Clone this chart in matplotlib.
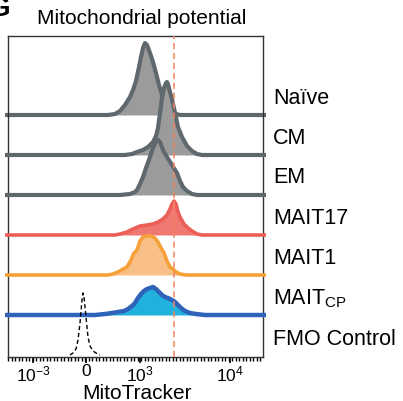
import matplotlib
matplotlib.use("Agg")
import matplotlib.pyplot as plt
from matplotlib.ticker import FixedLocator, MultipleLocator

plt.rcParams['font.family'] = ['Liberation Sans', 'DejaVu Sans']
plt.rcParams['mathtext.default'] = 'regular'

# ---- data (channel position, histogram height) ----
rows = ["Naïve", "CM", "EM", "MAIT17", "MAIT1", r"MAIT$_{CP}$", "FMO Control"]

naive_x = [100, 107, 112, 117, 122, 125, 128, 131, 133, 135, 137, 139, 142, 145, 148, 151, 154, 157, 160, 164, 168, 172]
naive_y = [0, 1, 4, 10, 18, 25, 34, 48, 58, 67, 72, 70, 62, 53, 42, 30, 20, 13, 8, 4, 1, 0]

cm_x = [117, 124, 129, 135, 140, 145, 148, 150, 152, 154, 156, 158, 159, 160, 162, 164, 167, 170, 174, 179, 184, 189, 194]
cm_y = [0, 1, 3, 5, 8, 13, 19, 27, 42, 57, 67, 72, 73, 71, 63, 56, 42, 28, 18, 9, 4, 1, 0]

em_x = [112, 122, 127, 129, 132, 135, 138, 142, 145, 148, 150, 152, 155, 159, 164, 169, 172, 175, 179, 184, 189]
em_y = [0, 1, 3, 5, 11, 18, 27, 38, 47, 53, 55, 53, 45, 38, 30, 22, 14, 8, 4, 1, 0]

m17_x = [107, 112, 119, 125, 132, 139, 145, 150, 155, 159, 162, 164, 166, 168, 170, 172, 176, 180, 184, 189, 194]
m17_y = [0, 1, 3, 6, 9, 10, 11, 13, 16, 20, 26, 31, 34, 31, 23, 18, 11, 7, 4, 1, 0]

m1_x = [100, 105, 110, 115, 119, 123, 126, 129, 132, 135, 139, 143, 147, 150, 153, 156, 159, 162, 165, 168, 172, 178]
m1_y = [0, 1, 3, 6, 8, 15, 22, 25, 34, 38, 39, 39, 37, 33, 27, 22, 14, 8, 6, 3, 1, 0]

mcp_x = [87, 97, 104, 110, 116, 120, 124, 127, 130, 133, 136, 139, 142, 145, 148, 151, 154, 157, 160, 164, 167, 170, 173, 177, 182, 188, 197]
mcp_y = [0, 1, 2, 3, 4, 6, 9, 12, 17, 21, 24, 26, 27, 28, 26, 23, 20, 18, 17, 15, 13, 10, 7, 4, 2, 1, 0]

fmo_x = [62, 65, 68, 70, 72, 74, 75, 76, 78, 80, 82, 85, 88, 92]
fmo_y = [0, 2, 6, 15, 32, 55, 62, 58, 38, 18, 9, 4, 2, 0]

curves_x = [naive_x, cm_x, em_x, m17_x, m1_x, mcp_x, fmo_x]
curves_y = [naive_y, cm_y, em_y, m17_y, m1_y, mcp_y, fmo_y]

tick_pos = [25, 78, 131.5, 221.5]
tick_labels = [r"$10^{-3}$", "0", r"$10^{3}$", r"$10^{4}$"]
gate_pos = 166

# ---- styling ----
line_colors = ["#5f686d", "#5f686d", "#5f686d", "#ec5e58", "#f6a03a", "#2f63b9", "black"]
fill_colors = ["#9b9b9b", "#9b9b9b", "#9b9b9b", "#ef7870", "#f8bf86", "#20b2dc", None]
line_widths = [3.0, 3.0, 3.0, 2.6, 2.6, 3.2, 1.0]
spacing = 40

W, H = 403, 402
fig = plt.figure(figsize=(W / 100, H / 100), dpi=100)
ax_l, ax_r, ax_t, ax_b = 8, 263, 37, 358
ax = fig.add_axes([ax_l / W, 1 - ax_b / H, (ax_r - ax_l) / W, (ax_b - ax_t) / H])
ax.set_xlim(0, ax_r - ax_l)
ax.set_ylim(0, ax_b - ax_t)

n = len(rows)
for i in range(n):
    off = (n - 1 - i) * spacing + 2
    xs = curves_x[i]
    ys = [off + v for v in curves_y[i]]
    z = 2 + i
    if fill_colors[i] is not None:
        ax.fill_between(xs, off, ys, color=fill_colors[i], lw=0, zorder=z)
        full_x = [-3] + xs + [ax_r - ax_l + 3]
        full_y = [off] + ys + [off]
        ax.plot(full_x, full_y, color=line_colors[i], lw=line_widths[i],
                solid_capstyle='butt', zorder=z + 0.5, clip_on=False)
    else:
        ax.plot(xs, ys, color=line_colors[i], lw=line_widths[i], ls=(0, (3, 2)),
                zorder=z + 0.5)

ax.axvline(gate_pos, color="#f2845f", lw=1.1, ls=(0, (4, 2.5)), zorder=20)

for s in ax.spines.values():
    s.set_color("#333333")
    s.set_linewidth(1.0)

ax.xaxis.set_major_locator(FixedLocator(tick_pos))
ax.set_xticklabels(tick_labels, fontsize=12.5)
ax.xaxis.set_minor_locator(MultipleLocator(3.5))
ax.tick_params(axis='x', which='major', length=4, width=1.2, pad=0.5)
ax.tick_params(axis='x', which='minor', length=3, width=1.0)
ax.set_yticks([])

# titles / labels
fig.text(142 / W, 1 - 18 / H, "Mitochondrial potential", fontsize=15,
         ha='center', va='center')
fig.text(11 / W, 1 + 4 / H, "G", fontsize=20, fontweight='bold', ha='right', va='top')
fig.text(137 / W, 1 - 394 / H, "MitoTracker", fontsize=15, ha='center', va='center')

label_y = [98, 139, 178, 219, 259, 299, 340]
for lab, ly in zip(rows, label_y):
    fig.text(273 / W, 1 - ly / H, lab, fontsize=15.5, ha='left', va='center')

fig.savefig("out.png", dpi=100)
